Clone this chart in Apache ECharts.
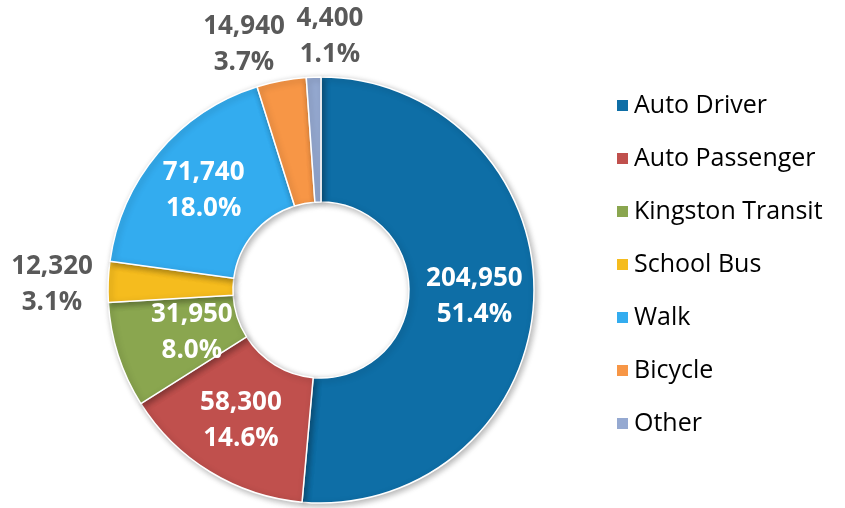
<!DOCTYPE html>
<html><head><meta charset="utf-8">
<script src="https://cdn.jsdelivr.net/npm/echarts@6/dist/echarts.min.js"></script>
<style>html,body{margin:0;padding:0;background:#fff}#c{width:845px;height:508px}</style>
</head><body><div id="c"></div>
<script>
const categories = ['Auto Driver','Auto Passenger','Kingston Transit','School Bus','Walk','Bicycle','Other'];
const values = [204950, 58300, 31950, 12320, 71740, 14940, 4400];
const colors = ['#0E6EA6','#C0504D','#8AA64F','#F5BC1E','#33ACEF','#F79646','#95A9D1'];
const outside = [false,false,false,true,false,true,true];

const total = values.reduce((a,b)=>a+b,0);
const labelPos = {3:{x:52,y:285},5:{x:244,y:45},6:{x:330,y:37}};
const labelShift = {2:{dx:17,dy:-4}};

const data = categories.map((c,i)=>({
  name:c, value:values[i],
  itemStyle:{color:colors[i]},
  label: outside[i] ? {position:'outside', color:'#595959'} : {position:'inside', color:'#fff'},
  labelLine:{show:false}
}));

const chart = echarts.init(document.getElementById('c'));
chart.setOption({
  animation:false,
  legend:{
    orient:'vertical', left:610, top:88,
    itemWidth:13, itemHeight:13, itemGap:28,
    icon:'rect',
    textStyle:{fontFamily:'Open Sans', fontSize:25, color:'#000'},
    data:categories
  },
  series:[{
    type:'pie',
    center:[321,290],
    radius:[88,213],
    startAngle:90,
    clockwise:true,
    avoidLabelOverlap:false,
    itemStyle:{borderColor:'#fff', borderWidth:1.5, shadowBlur:6, shadowOffsetX:2, shadowOffsetY:2, shadowColor:'rgba(0,0,0,0.3)'},
    label:{
      fontFamily:'Open Sans', fontSize:26, fontWeight:'bold', lineHeight:36,
      textBorderWidth:0,
      formatter:p=>p.value.toLocaleString('en-US')+'\n'+(p.value/total*100).toFixed(1)+'%'
    },
    labelLine:{show:false},
    labelLayout:function(p){
      const o = labelPos[p.dataIndex];
      if (o) return {x:o.x, y:o.y, align:'center', verticalAlign:'middle'};
      const s = labelShift[p.dataIndex];
      if (s) return {dx:s.dx, dy:s.dy};
      return {};
    },
    data:data
  }]
});
</script></body></html>
